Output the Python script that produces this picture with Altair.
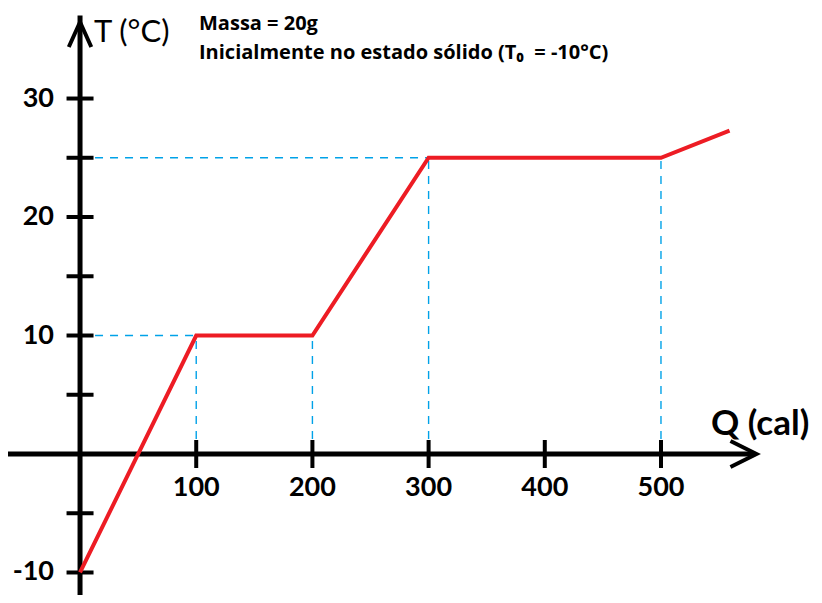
import altair as alt
import pandas as pd

# Data
q_values = [0, 100, 200, 300, 500, 559]
t_values = [-10, 10, 10, 25, 25, 27.3]
x_ticks = [100, 200, 300, 400, 500]
x_tick_labels = ["100", "200", "300", "400", "500"]
y_ticks = [30, 25, 20, 15, 10, 5, -5, -10]
y_label_values = [30, 20, 10, -10]
y_labels = ["30", "20", "10", "-10"]
# dashed guides: vertical drops from the curve's corners, horizontal to the T axis
v_guides_q = [100, 200, 300, 500]
v_guides_t = [10, 10, 25, 25]
h_guides_q = [100, 300]
h_guides_t = [10, 25]

XDOM = [-62, 631.7]
YDOM = [-11.9, 37.64]
FONT = "Lato"

xs = alt.Scale(domain=XDOM, nice=False, zero=False)
ys = alt.Scale(domain=YDOM, nice=False, zero=False)

curve = pd.DataFrame({"q": q_values, "t": t_values})
vg = pd.DataFrame({"q": v_guides_q, "t": v_guides_t, "z": [0] * len(v_guides_q)})
hg = pd.DataFrame({"q": h_guides_q, "t": h_guides_t, "z": [0] * len(h_guides_q)})
xt = pd.DataFrame({"q": x_ticks, "lab": x_tick_labels, "z": [0] * len(x_ticks)})
yt = pd.DataFrame({"t": y_ticks, "z": [0] * len(y_ticks)})
yl = pd.DataFrame({"t": y_label_values, "lab": y_labels, "z": [0] * len(y_labels)})

X = lambda f: alt.X(f, type="quantitative", scale=xs, axis=None)
Y = lambda f: alt.Y(f, type="quantitative", scale=ys, axis=None)

dash_style = dict(color="#00A2E8", strokeWidth=1.4, strokeDash=[8, 7])

v_dash = alt.Chart(vg).mark_rule(**dash_style).encode(
    x=X("q"), y=Y("z"), y2="t")
h_dash = alt.Chart(hg).mark_rule(**dash_style).encode(
    x=X("z"), x2="q", y=Y("t"))

x_axis = alt.Chart().mark_rule(color="black", strokeWidth=5).encode(
    x=alt.X(datum=XDOM[0], type="quantitative", scale=xs, axis=None),
    x2=alt.datum(580), y=alt.Y(datum=0, type="quantitative", scale=ys, axis=None))
y_axis = alt.Chart().mark_rule(color="black", strokeWidth=5).encode(
    x=alt.X(datum=0, type="quantitative", scale=xs, axis=None),
    y=alt.Y(datum=YDOM[0], type="quantitative", scale=ys, axis=None),
    y2=alt.datum(37.0))

x_arrow = alt.Chart().mark_point(
    shape="M-1,-1 L1,0 L-1,1", filled=False, color="black", strokeWidth=4,
    size=26 * 26, opacity=1).encode(
    x=alt.X(datum=571, type="quantitative", scale=xs, axis=None),
    y=alt.Y(datum=0, type="quantitative", scale=ys, axis=None))
y_arrow = alt.Chart().mark_point(
    shape="M-0.9,1 L0,-1 L0.9,1", filled=False, color="black", strokeWidth=4,
    size=25 * 25, opacity=1).encode(
    x=alt.X(datum=0, type="quantitative", scale=xs, axis=None),
    y=alt.Y(datum=35.4, type="quantitative", scale=ys, axis=None))

x_tick_marks = alt.Chart(xt).mark_tick(
    orient="vertical", size=28, thickness=4, color="black", opacity=1).encode(
    x=X("q"), y=Y("z"))
y_tick_marks = alt.Chart(yt).mark_tick(
    orient="horizontal", size=27, thickness=4, color="black", opacity=1).encode(
    x=X("z"), y=Y("t"))

x_tick_text = alt.Chart(xt).mark_text(
    font=FONT, fontSize=27, fontWeight="bold", color="black",
    align="center", baseline="middle", dy=34).encode(
    x=X("q"), y=Y("z"), text="lab")
y_tick_text = alt.Chart(yl).mark_text(
    font=FONT, fontSize=27, fontWeight="bold", color="black",
    align="right", baseline="middle", dx=-26).encode(
    x=X("z"), y=Y("t"), text="lab")

line = alt.Chart(curve).mark_line(color="#ED1C24", strokeWidth=4).encode(
    x=X("q"), y=Y("t"), order=alt.Order("q:Q"))

t_label = alt.Chart().mark_text(
    font=FONT, fontSize=31, fontWeight="normal", color="black",
    align="left", baseline="middle", text="T (°C)").encode(
    x=alt.value(86), y=alt.value(25))
q_label = alt.Chart().mark_text(
    font=FONT, fontSize=35, fontWeight="bold", color="black",
    align="left", baseline="middle", text="Q (cal)").encode(
    x=alt.value(703), y=alt.value(416))
note1 = alt.Chart().mark_text(
    font="Open Sans", fontSize=20, fontWeight="bold", color="black",
    align="left", baseline="middle", text="Massa = 20g").encode(
    x=alt.value(191), y=alt.value(16))
note2 = alt.Chart().mark_text(
    font="Open Sans", fontSize=20, fontWeight="bold", color="black",
    align="left", baseline="middle",
    text="Inicialmente no estado sólido (T₀\u00a0\u00a0= -10°C)").encode(
    x=alt.value(191), y=alt.value(45))

chart = alt.layer(
    v_dash, h_dash, x_axis, y_axis, x_arrow, y_arrow,
    x_tick_marks, y_tick_marks, x_tick_text, y_tick_text, line,
    t_label, q_label, note1, note2,
).properties(
    width=806, height=587, padding=0, autosize="none", background="white"
).configure_view(stroke=None)

chart.save("out.html", embed_options={"renderer": "svg", "actions": False})
